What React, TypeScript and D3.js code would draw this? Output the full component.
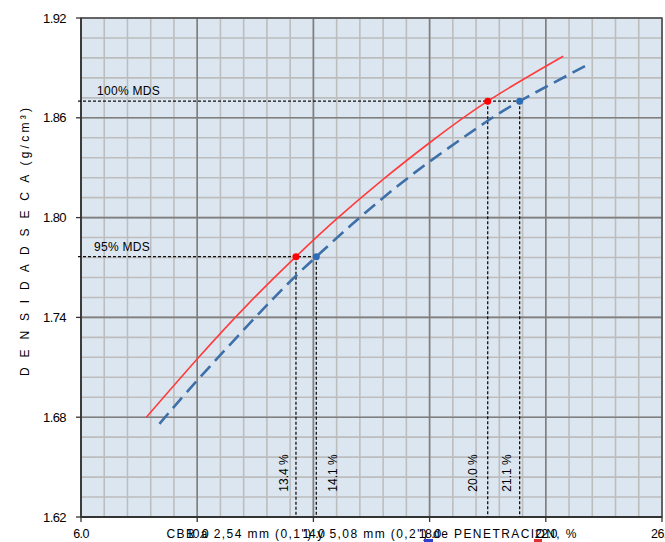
import React from "react";
import * as d3 from "d3";

// ---- data ----
const xTicks = [6, 10, 14, 18, 22, 26];
const yTicks = [1.62, 1.68, 1.74, 1.8, 1.86, 1.92];

// CBR at 2,54 mm (red, solid)
const redCbr = [8.25, 10.0, 11.75, 13.4, 14.8, 16.4, 18.0, 20.0, 22.6];
const redDens = [1.68, 1.715, 1.748, 1.7765, 1.7992, 1.823, 1.845, 1.87, 1.897];
// CBR at 5,08 mm (blue, dashed)
const blueCbr = [8.7, 10.1, 12.6, 14.1, 15.3, 16.9, 18.5, 19.9, 21.1, 23.45];
const blueDens = [1.676, 1.704, 1.751, 1.7765, 1.7955, 1.819, 1.84, 1.857, 1.87, 1.892];

const mdsLevels = [1.87, 1.7765];
const mdsLabels = ["100% MDS", "95% MDS"];
const redMarks = [20.0, 13.4];
const blueMarks = [21.1, 14.1];
const markLabels = ["13.4 %", "14.1 %", "20.0 %", "21.1 %"];
const markLabelValues = [13.4, 14.1, 20.0, 21.1];
const markLabelOffset = [-12, 17, -15, -13];

const xTitle = 'CBR a 2,54 mm (0,1") y 5,08 mm (0,2") de PENETRACION, %';
const yTitle = "D E N S I D A D   S E C A   (g/cm³)";

export default function App() {
  const W = 665, H = 542;
  const L = 81, R = 662, T = 18, B = 517;
  const x = d3.scaleLinear().domain([6, 26]).range([L, R]);
  const y = d3.scaleLinear().domain([1.62, 1.92]).range([B, T]);

  const minorX = d3.range(0, 26).map((i) => 6 + i * 0.8);
  const minorY = d3.range(0, 26).map((i) => 1.62 + i * 0.012);

  const line = d3
    .line<[number, number]>()
    .x((d) => x(d[0]))
    .y((d) => y(d[1]))
    .curve(d3.curveNatural);

  const redPts = redCbr.map((v, i) => [v, redDens[i]] as [number, number]);
  const bluePts = blueCbr.map((v, i) => [v, blueDens[i]] as [number, number]);
  const font = "'Liberation Sans', Arial, sans-serif";

  return (
    <svg
      width={W}
      height={H}
      style={{ position: "absolute", left: 0, top: 0, background: "#fff" }}
      fontFamily={font}
    >
      <rect x={L} y={T} width={R - L} height={B - T} fill="#dce6f1" />
      {minorX.map((v, i) => (
        <line key={"mx" + i} x1={x(v)} x2={x(v)} y1={T} y2={B} stroke="#bdbdbd" strokeWidth={1.6} />
      ))}
      {minorY.map((v, i) => (
        <line key={"my" + i} x1={L} x2={R} y1={y(v)} y2={y(v)} stroke="#bdbdbd" strokeWidth={1.6} />
      ))}
      {xTicks.map((v, i) => (
        <line key={"Mx" + i} x1={x(v)} x2={x(v)} y1={T} y2={B} stroke="#7f7f7f" strokeWidth={1.6} />
      ))}
      {yTicks.map((v, i) => (
        <line key={"My" + i} x1={L} x2={R} y1={y(v)} y2={y(v)} stroke="#7f7f7f" strokeWidth={1.6} />
      ))}
      <rect x={L} y={T} width={R - L} height={B - T} fill="none" stroke="#555" strokeWidth={1.5} />
      <line x1={L} x2={R} y1={B} y2={B} stroke="#333" strokeWidth={2.2} />
      <line x1={L} x2={L} y1={T} y2={B} stroke="#333" strokeWidth={1.6} />

      {/* ticks */}
      {yTicks.map((v, i) => (
        <g key={"yt" + i}>
          <line x1={L - 5} x2={L} y1={y(v)} y2={y(v)} stroke="#333" strokeWidth={1.3} />
          <text x={66} y={y(v) + 4.5} fontSize={13} textAnchor="end" fill="#000" letterSpacing={-0.6}>
            {v.toFixed(2)}
          </text>
        </g>
      ))}
      {xTicks.map((v, i) => (
        <g key={"xt" + i}>
          <line x1={x(v)} x2={x(v)} y1={B} y2={B + 5} stroke="#333" strokeWidth={1.3} />
          <text x={x(v)} y={538} fontSize={12.5} textAnchor="middle" fill="#000" letterSpacing={-0.6}>
            {v.toFixed(1)}
          </text>
        </g>
      ))}

      {/* reference dashed lines */}
      {mdsLevels.map((lv, i) => (
        <g key={"ref" + i}>
          <line x1={L - 3} x2={x(blueMarks[i])} y1={y(lv)} y2={y(lv)} stroke="#111" strokeWidth={1.3} strokeDasharray="3,2" />
          <line x1={x(redMarks[i])} x2={x(redMarks[i])} y1={y(lv)} y2={B} stroke="#111" strokeWidth={1.3} strokeDasharray="3,2" />
          <line x1={x(blueMarks[i])} x2={x(blueMarks[i])} y1={y(lv)} y2={B} stroke="#111" strokeWidth={1.3} strokeDasharray="3,2" />
          <text x={i === 0 ? 97 : 94} y={y(lv) - 6} fontSize={12} fill="#000" letterSpacing={0.3}>
            {mdsLabels[i]}
          </text>
        </g>
      ))}

      {/* curves */}
      <path d={line(redPts) || ""} fill="none" stroke="#ff3b3b" strokeWidth={1.6} />
      <path d={line(bluePts) || ""} fill="none" stroke="#3d6fa8" strokeWidth={2.6} strokeDasharray="14,7" />

      {mdsLevels.map((lv, i) => (
        <g key={"pt" + i}>
          <circle cx={x(redMarks[i])} cy={y(lv)} r={3.5} fill="#ff0000" />
          <circle cx={x(blueMarks[i])} cy={y(lv)} r={3.5} fill="#2e6db4" />
        </g>
      ))}

      {markLabels.map((t, i) => {
        const cx = x(markLabelValues[i]) + markLabelOffset[i];
        const cy = 473;
        return (
          <text
            key={"ml" + i}
            x={cx}
            y={cy}
            fontSize={12}
            textAnchor="middle"
            fill="#000"
            transform={`rotate(-90 ${cx} ${cy})`}
            dy={4}
          >
            {t}
          </text>
        );
      })}

      {/* axis titles */}
      <text
        x={(L + R) / 2}
        y={538}
        fontSize={12}
        textAnchor="middle"
        fill="#000"
        textLength={410}
        lengthAdjust="spacing"
      >
        {xTitle}
      </text>
      <text
        x={25}
        y={242}
        fontSize={12}
        textAnchor="middle"
        fill="#000"
        transform="rotate(-90 25 242)"
        dy={4}
        textLength={268}
        lengthAdjust="spacing"
      >
        {yTitle}
      </text>
      {/* clipped legend markers */}
      <rect x={424} y={539} width={9} height={4} fill="#2e40d0" />
      <rect x={534} y={539} width={8} height={4} fill="#e03030" />
    </svg>
  );
}
